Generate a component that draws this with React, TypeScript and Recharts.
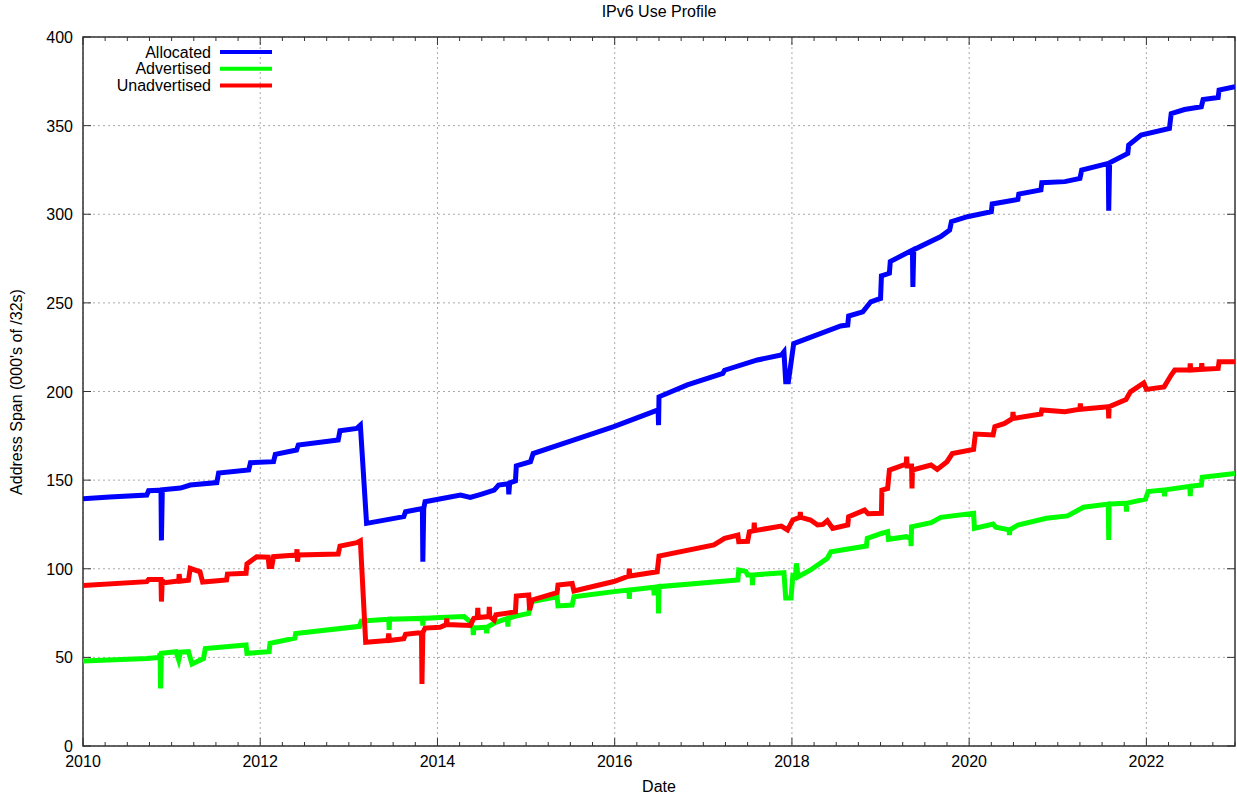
import React from "react";
import { LineChart, Line, XAxis, YAxis, CartesianGrid, Legend, ReferenceArea } from "recharts";

const W = 1237;
const H = 796;
const M = { top: 37, right: 2, bottom: 20, left: 0 };
const PLOT_LEFT = 83;
const XAXIS_H = 30;
const PW = W - PLOT_LEFT - M.right;
const PH = H - M.top - M.bottom - XAXIS_H;
const FONT = "'Liberation Sans', Arial, sans-serif";

// Allocated (blue)
const allocDates = [
	2010.0, 2010.3, 2010.72, 2010.74, 2010.88, 2010.885, 2010.895, 2011.1, 2011.21, 2011.51,
	2011.53, 2011.87, 2011.89, 2012.15, 2012.17, 2012.41, 2012.43, 2012.88, 2012.9, 2013.09,
	2013.13, 2013.2, 2013.62, 2013.64, 2013.83, 2013.835, 2013.845, 2013.86, 2014.26, 2014.37,
	2014.49, 2014.64, 2014.69, 2014.8, 2014.805, 2014.815, 2014.88, 2014.89, 2015.05, 2015.08,
	2015.5, 2015.99, 2016.49, 2016.495, 2016.5, 2016.82, 2017.22, 2017.24, 2017.61, 2017.88,
	2017.91, 2017.93, 2017.96, 2018.02, 2018.55, 2018.63, 2018.64, 2018.8, 2018.89, 2019.0,
	2019.01, 2019.1, 2019.11, 2019.36, 2019.365, 2019.375, 2019.68, 2019.78, 2019.8, 2019.98,
	2020.25, 2020.26, 2020.55, 2020.56, 2020.81, 2020.82, 2021.08, 2021.25, 2021.27, 2021.57,
	2021.575, 2021.585, 2021.79, 2021.8, 2021.94, 2022.26, 2022.28, 2022.43, 2022.62, 2022.64,
	2022.81, 2022.82, 2023.0,
];
const allocValues = [
	139.5, 140.5, 141.6, 144, 144.3, 116, 144.5, 145.5, 147.2, 148.6,
	154, 155.7, 159.8, 160.4, 164.5, 167, 169.8, 172.6, 177.9, 179.2,
	181, 125.6, 129.4, 132.2, 134, 104, 134, 137.8, 141.6, 140.2,
	142, 144.4, 147.2, 148, 142, 148.5, 149.6, 158, 160.4, 165,
	172, 180.2, 189.6, 181, 197, 203.7, 210.2, 212, 217.8, 220.6,
	222.4, 205.5, 205.5, 227, 237, 237.5, 242.6, 244.9, 250.6, 252.5,
	265.2, 266.7, 273.3, 279.8, 259, 280, 287.4, 291.1, 295.8, 298.6,
	301.4, 305.8, 308.4, 311.4, 313.7, 317.8, 318.4, 320.2, 324.9, 328.7,
	302, 329, 334.3, 339, 344.7, 348.4, 356.8, 359.1, 360.6, 364.7,
	365.9, 370, 372,
];

// Advertised (green)
const advDates = [
	2010.0, 2010.72, 2010.86, 2010.87, 2010.875, 2010.885, 2011.05, 2011.08, 2011.1, 2011.19,
	2011.23, 2011.36, 2011.38, 2011.84, 2011.85, 2012.1, 2012.11, 2012.39, 2012.4, 2013.12,
	2013.14, 2013.45, 2013.455, 2013.46, 2013.83, 2013.835, 2013.84, 2014.03, 2014.3, 2014.37,
	2014.4, 2014.405, 2014.41, 2014.55, 2014.555, 2014.56, 2014.65, 2014.79, 2014.795, 2014.8,
	2014.88, 2015.03, 2015.05, 2015.35, 2015.36, 2015.52, 2015.54, 2015.99, 2016.16, 2016.165,
	2016.17, 2016.44, 2016.445, 2016.45, 2016.49, 2016.495, 2016.5, 2017.39, 2017.4, 2017.48,
	2017.5, 2017.55, 2017.555, 2017.56, 2017.91, 2017.93, 2017.99, 2018.01, 2018.04, 2018.05,
	2018.07, 2018.21, 2018.4, 2018.44, 2018.84, 2018.85, 2019.01, 2019.08, 2019.09, 2019.29,
	2019.34, 2019.345, 2019.35, 2019.57, 2019.68, 2020.05, 2020.06, 2020.27, 2020.3, 2020.45,
	2020.455, 2020.46, 2020.55, 2020.87, 2021.11, 2021.29, 2021.57, 2021.575, 2021.58, 2021.77,
	2021.775, 2021.78, 2021.99, 2022.02, 2022.2, 2022.205, 2022.21, 2022.49, 2022.495, 2022.5,
	2022.62, 2022.63, 2023.0,
];
const advValues = [
	48, 49.4, 50, 52.3, 32.5, 52.3, 53.2, 48.5, 53, 53.2,
	46.3, 49.4, 55, 57, 52.3, 53.2, 57.9, 60.8, 63.5, 67.5,
	70.5, 71.5, 65.5, 71.5, 72, 68, 72, 72.5, 73, 70.1,
	66.5, 62.5, 66.5, 67, 63.5, 67, 69.6, 72, 67.3, 72,
	73.3, 74.8, 81.4, 84.2, 79, 79.5, 84.2, 87.1, 88, 83,
	88, 89.5, 85, 89.5, 89.9, 74.8, 89.9, 93.7, 99.3, 98.5,
	96.5, 96.5, 90.8, 96.5, 97.8, 83.5, 83.5, 96, 95.5, 103,
	95.5, 99.3, 105.9, 109.6, 112.8, 117.1, 119.9, 120.9, 116.6, 118.1,
	117, 112.8, 123.7, 126, 129, 131.3, 122.8, 125.2, 123.5, 122,
	119, 122, 124.7, 128.5, 129.8, 134.7, 136.5, 116.2, 136.5, 137,
	132.2, 137, 139.3, 143.6, 144.5, 140.8, 144.5, 146.5, 141, 146.5,
	147.2, 151.6, 153.8,
];

// Unadvertised (red)
const unadvDates = [
	2010.0, 2010.72, 2010.74, 2010.88, 2010.885, 2010.895, 2010.9, 2011.05, 2011.08, 2011.085,
	2011.095, 2011.19, 2011.21, 2011.32, 2011.35, 2011.62, 2011.63, 2011.84, 2011.85, 2011.96,
	2012.09, 2012.1, 2012.13, 2012.15, 2012.41, 2012.415, 2012.42, 2012.43, 2012.88, 2012.9,
	2013.09, 2013.13, 2013.19, 2013.44, 2013.45, 2013.46, 2013.62, 2013.64, 2013.82, 2013.825,
	2013.835, 2013.86, 2014.03, 2014.1, 2014.105, 2014.11, 2014.37, 2014.41, 2014.45, 2014.455,
	2014.46, 2014.58, 2014.585, 2014.59, 2014.64, 2014.66, 2014.88, 2014.89, 2015.03, 2015.04,
	2015.07, 2015.35, 2015.36, 2015.52, 2015.54, 2015.99, 2016.16, 2016.165, 2016.17, 2016.48,
	2016.5, 2017.12, 2017.24, 2017.39, 2017.4, 2017.5, 2017.52, 2017.57, 2017.575, 2017.58,
	2017.88, 2017.95, 2018.01, 2018.09, 2018.095, 2018.1, 2018.21, 2018.29, 2018.35, 2018.4,
	2018.46, 2018.63, 2018.64, 2018.82, 2018.86, 2019.01, 2019.015, 2019.08, 2019.1, 2019.29,
	2019.295, 2019.3, 2019.35, 2019.355, 2019.36, 2019.57, 2019.64, 2019.75, 2019.81, 2020.05,
	2020.07, 2020.27, 2020.29, 2020.4, 2020.49, 2020.495, 2020.5, 2020.81, 2020.82, 2021.08,
	2021.25, 2021.255, 2021.26, 2021.57, 2021.575, 2021.58, 2021.77, 2021.82, 2021.97, 2022.0,
	2022.2, 2022.28, 2022.32, 2022.49, 2022.495, 2022.5, 2022.62, 2022.625, 2022.63, 2022.81,
	2022.82, 2023.0,
];
const unadvValues = [
	90.5, 92.7, 94, 94, 81.5, 94, 92, 93, 93, 97,
	93, 93.5, 100.2, 98.3, 92.5, 93.7, 97, 97.4, 102.7, 106.8,
	106.5, 101.2, 101.2, 106.8, 107.8, 111, 104, 107.8, 108.3, 112.8,
	114.7, 115.8, 58.5, 59.5, 63.5, 59.5, 60.5, 63, 64, 35,
	64, 66.5, 67, 68.5, 72, 68.5, 68, 72, 72.5, 78,
	72.5, 73, 78.5, 73, 71, 74, 75.7, 84.6, 85.2, 76.7,
	82.4, 86.5, 90.8, 91.7, 87.5, 92.8, 95.9, 100, 95.9, 98.3,
	107.2, 113.4, 117.1, 119, 115.3, 115.5, 120.9, 121.5, 126, 121.5,
	124.1, 121.9, 127.5, 129, 132, 129, 127.5, 124.7, 125, 127.1,
	122.8, 124.7, 129.4, 133.1, 131, 131.3, 144.4, 145.3, 155.7, 159.1,
	163.3, 158, 158, 145.3, 155.7, 158.5, 156, 160.4, 165, 167.3,
	176, 175.5, 180.2, 182, 184.8, 188.5, 184.8, 187.3, 189.6, 188.6,
	190, 193.2, 190, 191.4, 184.8, 191.4, 195.5, 199.8, 204.8, 201.2,
	202.6, 209.3, 212.1, 212.1, 215.8, 212.1, 212.5, 216, 212.5, 213,
	216.8, 216.8,
];

const seriesNames = ["Allocated", "Advertised", "Unadvertised"];
const seriesColors = ["#0000ff", "#00ff00", "#ff0000"];
const majorYears = [2010, 2012, 2014, 2016, 2018, 2020, 2022];
const xTicks = Array.from({ length: 53 }, (_, i) => 2010 + i * 0.25);
const yTicks = [0, 50, 100, 150, 200, 250, 300, 350, 400];

const toPoints = (dates: number[], values: number[]) =>
	dates.map((d, i) => ({ d, v: values[i] }));

const allocData = toPoints(allocDates, allocValues);
const advData = toPoints(advDates, advValues);
const unadvData = toPoints(unadvDates, unadvValues);

// x,y arrive at the plot's bottom edge; majors get a label and a longer tick
const renderXTick = (props: any) => {
	const { x, y, payload } = props;
	const major = majorYears.includes(payload.value);
	const len = major ? 8 : 4;
	return (
		<g key={`xt-${payload.value}`}>
			<line x1={x} x2={x} y1={y} y2={y - len} stroke="#333" />
			<line x1={x} x2={x} y1={y - PH} y2={y - PH + len} stroke="#333" />
			{major && (
				<text x={x} y={y + 21} textAnchor="middle" fontSize={16} fontFamily={FONT} fill="#000">
					{payload.value}
				</text>
			)}
		</g>
	);
};

const renderYTick = (props: any) => {
	const { x, y, payload } = props;
	return (
		<g key={`yt-${payload.value}`}>
			<line x1={x} x2={x + 8} y1={y} y2={y} stroke="#333" />
			<line x1={x + PW} x2={x + PW - 8} y1={y} y2={y} stroke="#333" />
			<text x={x - 10} y={y + 6} textAnchor="end" fontSize={16} fontFamily={FONT} fill="#000">
				{payload.value}
			</text>
		</g>
	);
};

const renderLegend = (props: any) => {
	const payload: any[] = props.payload || [];
	const items = seriesNames.map((n, i) => {
		const p = payload.find((q) => q.value === n);
		return { name: n, color: p ? p.color : seriesColors[i] };
	});
	return (
		<svg width={290} height={56}>
			{items.map((it, i) => {
				const cy = 12 + i * 16.7;
				return (
					<g key={it.name}>
						<text x={211} y={cy + 5.5} textAnchor="end" fontSize={16} fontFamily={FONT} fill="#000">
							{it.name}
						</text>
						<line x1={220} x2={272} y1={cy} y2={cy} stroke={it.color} strokeWidth={4} />
					</g>
				);
			})}
		</svg>
	);
};

export default function App() {
	return (
		<div style={{ position: "absolute", left: 0, top: 0, width: W, height: H, fontFamily: FONT, background: "#fff" }}>
			<div style={{ position: "absolute", left: PLOT_LEFT + PW / 2, top: 12, transform: "translate(-50%, -50%)", fontSize: 16, whiteSpace: "nowrap" }}>
				IPv6 Use Profile
			</div>
			<div style={{ position: "absolute", left: PLOT_LEFT + PW / 2, top: 787, transform: "translate(-50%, -50%)", fontSize: 16, whiteSpace: "nowrap" }}>
				Date
			</div>
			<div style={{ position: "absolute", left: 17, top: M.top + PH / 2, transform: "translate(-50%, -50%) rotate(-90deg)", fontSize: 16, whiteSpace: "nowrap" }}>
				Address Span (000's of /32s)
			</div>
			<LineChart width={W} height={H} margin={M}>
				<CartesianGrid stroke="#aaa" strokeDasharray="2 3" verticalValues={majorYears} horizontalValues={yTicks} />
				<XAxis
					dataKey="d"
					type="number"
					domain={[2010, 2023]}
					allowDataOverflow
					ticks={xTicks}
					interval={0}
					height={XAXIS_H}
					tickSize={0}
					tickMargin={0}
					axisLine={false}
					tickLine={false}
					tick={renderXTick}
				/>
				<YAxis
					type="number"
					domain={[0, 400]}
					ticks={yTicks}
					interval={0}
					width={PLOT_LEFT}
					tickSize={0}
					tickMargin={0}
					axisLine={false}
					tickLine={false}
					tick={renderYTick}
				/>
				<ReferenceArea x1={2010} x2={2023} y1={0} y2={400} fill="none" stroke="#333" strokeWidth={1.5} />
				<Legend
					layout="vertical"
					align="center"
					verticalAlign="middle"
					wrapperStyle={{ left: 0, top: 40, width: 290, height: 56 }}
					content={renderLegend}
				/>
				<Line data={allocData} dataKey="v" name={seriesNames[0]} type="linear" stroke={seriesColors[0]} strokeWidth={5} dot={false} isAnimationActive={false} />
				<Line data={advData} dataKey="v" name={seriesNames[1]} type="linear" stroke={seriesColors[1]} strokeWidth={5} dot={false} isAnimationActive={false} />
				<Line data={unadvData} dataKey="v" name={seriesNames[2]} type="linear" stroke={seriesColors[2]} strokeWidth={5} dot={false} isAnimationActive={false} />
			</LineChart>
		</div>
	);
}
